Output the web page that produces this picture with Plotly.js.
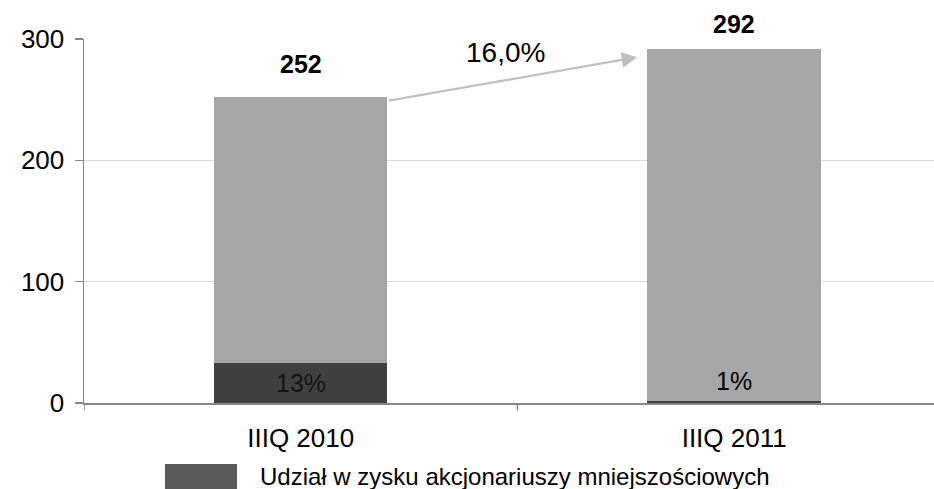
<!DOCTYPE html>
<html>
<head>
<meta charset="utf-8">
<script src="https://cdn.plot.ly/plotly-3.0.1.min.js"></script>
<style>html,body{margin:0;padding:0;background:#fff;}#chart{width:934px;height:489px;}</style>
</head>
<body>
<div id="chart"></div>
<script>
// Data
const categories = ["IIIQ 2010", "IIIQ 2011"];
const minorityShare = [33, 2];          // Udział w zysku akcjonariuszy mniejszościowych
const restOfProfit = [219, 290];        // pozostała część zysku
const totals = [252, 292];
const pctLabels = ["13%", "1%"];
const totalLabels = ["252", "292"];
const growthLabel = "16,0%";
const legendLabel = "Udział w zysku akcjonariuszy mniejszościowych";
const yTicks = [0, 100, 200, 300];

const FONT = "Liberation Sans, Arial, sans-serif";
const idx = categories.map((c, i) => i);

const traces = [
  {
    type: "bar", x: idx, y: minorityShare, width: 0.4,
    marker: {color: "#404040"}, showlegend: false, hoverinfo: "skip"
  },
  {
    type: "bar", x: idx, y: restOfProfit, width: 0.4,
    marker: {color: "#a6a6a6"}, showlegend: false, hoverinfo: "skip"
  }
];

const annotations = [];
const totalShift = [33, 25];
idx.forEach(i => {
  annotations.push({
    x: i, y: totals[i], xref: "x", yref: "y", text: "<b>" + totalLabels[i] + "</b>",
    showarrow: false, yanchor: "middle", yshift: totalShift[i],
    font: {family: FONT, size: 25, color: "#000"}
  });
  const small = minorityShare[i] < 15;
  annotations.push({
    x: i, y: small ? minorityShare[i] : minorityShare[i] / 2, xref: "x", yref: "y",
    text: pctLabels[i], showarrow: false,
    yanchor: small ? "bottom" : "middle", yshift: small ? 4 : 0,
    font: {family: FONT, size: 25, color: small ? "#000" : "#151515"}
  });
});
// growth arrow from top of first bar to near top of second bar
const arrowStartX = 0 + 0.2, arrowEndX = 1 - 0.2 - 0.024;
annotations.push({
  x: arrowEndX, y: totals[1] - 7, xref: "x", yref: "y",
  ax: arrowStartX, ay: totals[0] - 3, axref: "x", ayref: "y",
  text: "", showarrow: true, arrowhead: 2, arrowsize: 1.4, arrowwidth: 2.2,
  arrowcolor: "#bfbfbf", standoff: 0, startstandoff: 0
});
annotations.push({
  x: (arrowStartX + arrowEndX) / 2, y: (totals[0] + totals[1]) / 2 - 5, xref: "x", yref: "y",
  text: growthLabel, showarrow: false, xshift: -7, yshift: 27,
  font: {family: FONT, size: 28, color: "#000"}
});
// manual legend
annotations.push({
  x: 0.205, y: -0.203, xref: "paper", yref: "paper", xanchor: "left", yanchor: "middle",
  text: legendLabel, showarrow: false, font: {family: FONT, size: 24, color: "#000"}
});

const layout = {
  width: 934, height: 489,
  margin: {l: 84, r: 0, t: 39, b: 86},
  paper_bgcolor: "#fff", plot_bgcolor: "#fff",
  barmode: "stack", showlegend: false,
  font: {family: FONT, size: 26, color: "#000"},
  xaxis: {
    type: "linear", range: [-0.5, 1.461], tickvals: idx, ticktext: categories,
    showgrid: false, zeroline: false, showline: true, linecolor: "#868686", linewidth: 1.5,
    ticks: "", ticklabelstandoff: 11, fixedrange: true,
    tickfont: {family: FONT, size: 26, color: "#000"}
  },
  yaxis: {
    range: [0, 300], tickvals: yTicks, showgrid: true, gridcolor: "#d9d9d9", gridwidth: 1.5,
    zeroline: false, showline: true, linecolor: "#868686", linewidth: 1.5,
    ticks: "outside", ticklen: 8, tickcolor: "#868686", tickwidth: 1.5,
    ticklabelstandoff: 5, fixedrange: true,
    tickfont: {family: FONT, size: 26, color: "#000"}
  },
  shapes: [
    // category boundary ticks on the x axis
    ...[-0.5, 0.5].map(b => ({
      type: "line", xref: "x", yref: "paper", x0: b, x1: b, y0: 0, y1: -0.02,
      line: {color: "#868686", width: 1.5}
    })),
    // legend swatch
    {type: "rect", xref: "paper", yref: "paper", x0: 0.0953, x1: 0.18, y0: -0.1676, y1: -0.26,
     fillcolor: "#595959", line: {width: 0}}
  ],
  annotations: annotations,
  bargap: 0.6
};

Plotly.newPlot("chart", traces, layout, {displayModeBar: false, staticPlot: true});
</script>
</body>
</html>
